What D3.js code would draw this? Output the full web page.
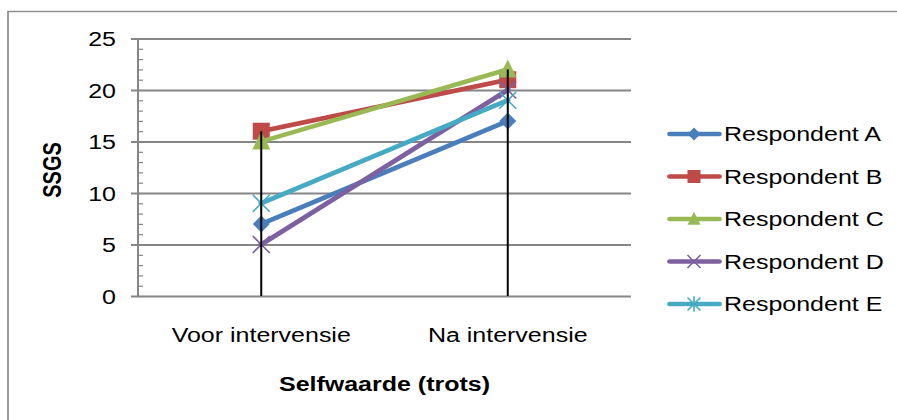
<!DOCTYPE html>
<html>
<head>
<meta charset="utf-8">
<script src="https://cdn.jsdelivr.net/npm/d3@7/dist/d3.min.js"></script>
<style>
  html, body { margin: 0; padding: 0; background: #fff; }
  svg { display: block; }
  text { font-family: "Liberation Sans", Arial, sans-serif; fill: #000; }
</style>
</head>
<body>
<div id="chart"></div>
<script>
// data
const categories = ["Voor intervensie", "Na intervensie"];
const seriesNames = ["Respondent A", "Respondent B", "Respondent C", "Respondent D", "Respondent E"];
const respA = [7, 17];
const respB = [16, 21];
const respC = [15, 22];
const respD = [5, 20];
const respE = [9, 19];
const yTicks = [0, 5, 10, 15, 20, 25];
const yMinorTicks = d3.range(0, 26);
const seriesColors = ["#4a7ebb", "#be4b48", "#98b954", "#7d60a0", "#46aac5"];
const markerTypes = ["diamond", "square", "triangle", "x", "star"];

const series = seriesNames.map((name, i) => ({
  name: name,
  values: [respA, respB, respC, respD, respE][i],
  color: seriesColors[i],
  marker: markerTypes[i]
}));

// the picture is stretched horizontally, so draw in a narrower space and stretch it
const SX = 1.25;
const W = 897, H = 420;
const VW = W / SX;

const plotL = 138 / SX, plotR = 631 / SX, gridL = 131 / SX;
const plotT = 38.5, plotB = 296;

const svg = d3.select("#chart").append("svg")
  .attr("width", W)
  .attr("height", H)
  .attr("viewBox", "0 0 " + VW + " " + H)
  .attr("preserveAspectRatio", "none");

// outer border
svg.append("rect")
  .attr("x", 8 / SX).attr("y", 11.5)
  .attr("width", VW).attr("height", H)
  .attr("fill", "none")
  .attr("stroke", "#8c8c8c")
  .attr("stroke-width", 1.4);

const x = d3.scaleBand().domain(categories).range([plotL, plotR]);
const cx = d => x(d) + x.bandwidth() / 2;
const y = d3.scaleLinear().domain([0, 25]).range([plotB, plotT]);

// gridlines + labels
const yAxis = svg.append("g")
  .attr("transform", "translate(" + gridL + ",0)")
  .call(d3.axisLeft(y).tickValues(yTicks).tickSizeInner(-(plotR - gridL)).tickSizeOuter(0).tickPadding(12))
yAxis.select(".domain").remove();
yAxis.selectAll(".tick line").attr("stroke", "#868686").attr("stroke-width", 1.8);
yAxis.selectAll(".tick text")
  .attr("font-size", 20)
  .attr("font-family", "Liberation Sans, Arial, sans-serif")
  .attr("dy", "0.35em");

// minor ticks
const minor = svg.append("g")
  .attr("transform", "translate(" + plotL + ",0)")
  .call(d3.axisRight(y).tickValues(yMinorTicks).tickSize(4).tickFormat(""));
minor.select(".domain").remove();
minor.selectAll(".tick line").attr("stroke", "#868686").attr("stroke-width", 1.2);

// y axis line
svg.append("line")
  .attr("x1", plotL).attr("x2", plotL)
  .attr("y1", plotT).attr("y2", plotB)
  .attr("stroke", "#868686").attr("stroke-width", 1.6);

// category labels
svg.append("g").selectAll("text")
  .data(categories)
  .join("text")
  .attr("x", d => cx(d))
  .attr("y", 342)
  .attr("text-anchor", "middle")
  .attr("font-size", 20)
  .text(d => d);

// axis titles
svg.append("text")
  .attr("x", (plotL + plotR) / 2)
  .attr("y", 391)
  .attr("text-anchor", "middle")
  .attr("font-size", 20)
  .attr("font-weight", "bold")
  .text("Selfwaarde (trots)");

svg.append("text")
  .attr("transform", "translate(" + (61 / SX) + ",170) rotate(-90)")
  .attr("text-anchor", "middle")
  .attr("font-size", 20)
  .attr("font-weight", "bold")
  .text("SSGS");

// marker shapes (r = half size)
function markerPath(type, r) {
  const p = d3.path();
  if (type === "diamond") {
    p.moveTo(0, -r); p.lineTo(r, 0); p.lineTo(0, r); p.lineTo(-r, 0); p.closePath();
  } else if (type === "square") {
    p.rect(-r, -r, 2 * r, 2 * r);
  } else if (type === "triangle") {
    p.moveTo(0, -r * 1.1); p.lineTo(r, r * 0.9); p.lineTo(-r, r * 0.9); p.closePath();
  } else if (type === "x") {
    p.moveTo(-r, -r); p.lineTo(r, r); p.moveTo(r, -r); p.lineTo(-r, r);
  } else {
    p.moveTo(-r, -r); p.lineTo(r, r); p.moveTo(r, -r); p.lineTo(-r, r);
    p.moveTo(0, -r * 1.2); p.lineTo(0, r * 1.2);
  }
  return p.toString();
}
function drawMarker(sel, s, r) {
  const filled = s.marker !== "x" && s.marker !== "star";
  sel.append("path")
    .attr("d", markerPath(s.marker, r))
    .attr("fill", filled ? s.color : "none")
    .attr("stroke", s.color)
    .attr("stroke-width", filled ? 0 : 1.6);
}

const line = d3.line().x((d, i) => cx(categories[i])).y(d => y(d));

// series
const sg = svg.append("g").selectAll("g")
  .data(series)
  .join("g");
sg.append("path")
  .attr("d", d => line(d.values))
  .attr("fill", "none")
  .attr("stroke", d => d.color)
  .attr("stroke-width", 4.5)
  .attr("stroke-linecap", "round");
sg.each(function (s) {
  d3.select(this).selectAll("g.mk")
    .data(s.values)
    .join("g")
    .attr("class", "mk")
    .attr("transform", (d, i) => "translate(" + cx(categories[i]) + "," + y(d) + ") scale(" + (1 / SX) + ",1)")
    .each(function () { drawMarker(d3.select(this), s, s.marker === "triangle" ? 9 : 8.5); });
});

// drop lines from the highest point to the axis
svg.append("g").selectAll("line")
  .data(categories)
  .join("line")
  .attr("x1", d => cx(d)).attr("x2", d => cx(d))
  .attr("y1", (d, i) => y(d3.max(series, s => s.values[i])))
  .attr("y2", plotB)
  .attr("stroke", "#000")
  .attr("stroke-width", 2 / SX);

// legend
const legendRows = [134, 176.5, 219, 261.5, 304];
const lg = svg.append("g").selectAll("g")
  .data(series)
  .join("g")
  .attr("transform", (d, i) => "translate(0," + legendRows[i] + ")");
lg.append("line")
  .attr("x1", 670 / SX).attr("x2", 719 / SX)
  .attr("stroke", d => d.color)
  .attr("stroke-width", 4.5)
  .attr("stroke-linecap", "round");
lg.append("g")
  .attr("transform", "translate(" + (694 / SX) + ",0) scale(" + (1 / SX) + ",1)")
  .each(function (s) { drawMarker(d3.select(this), s, 6.5); });
lg.append("text")
  .attr("x", 724 / SX)
  .attr("y", 7)
  .attr("font-size", 20)
  .text(d => d.name);
</script>
</body>
</html>
